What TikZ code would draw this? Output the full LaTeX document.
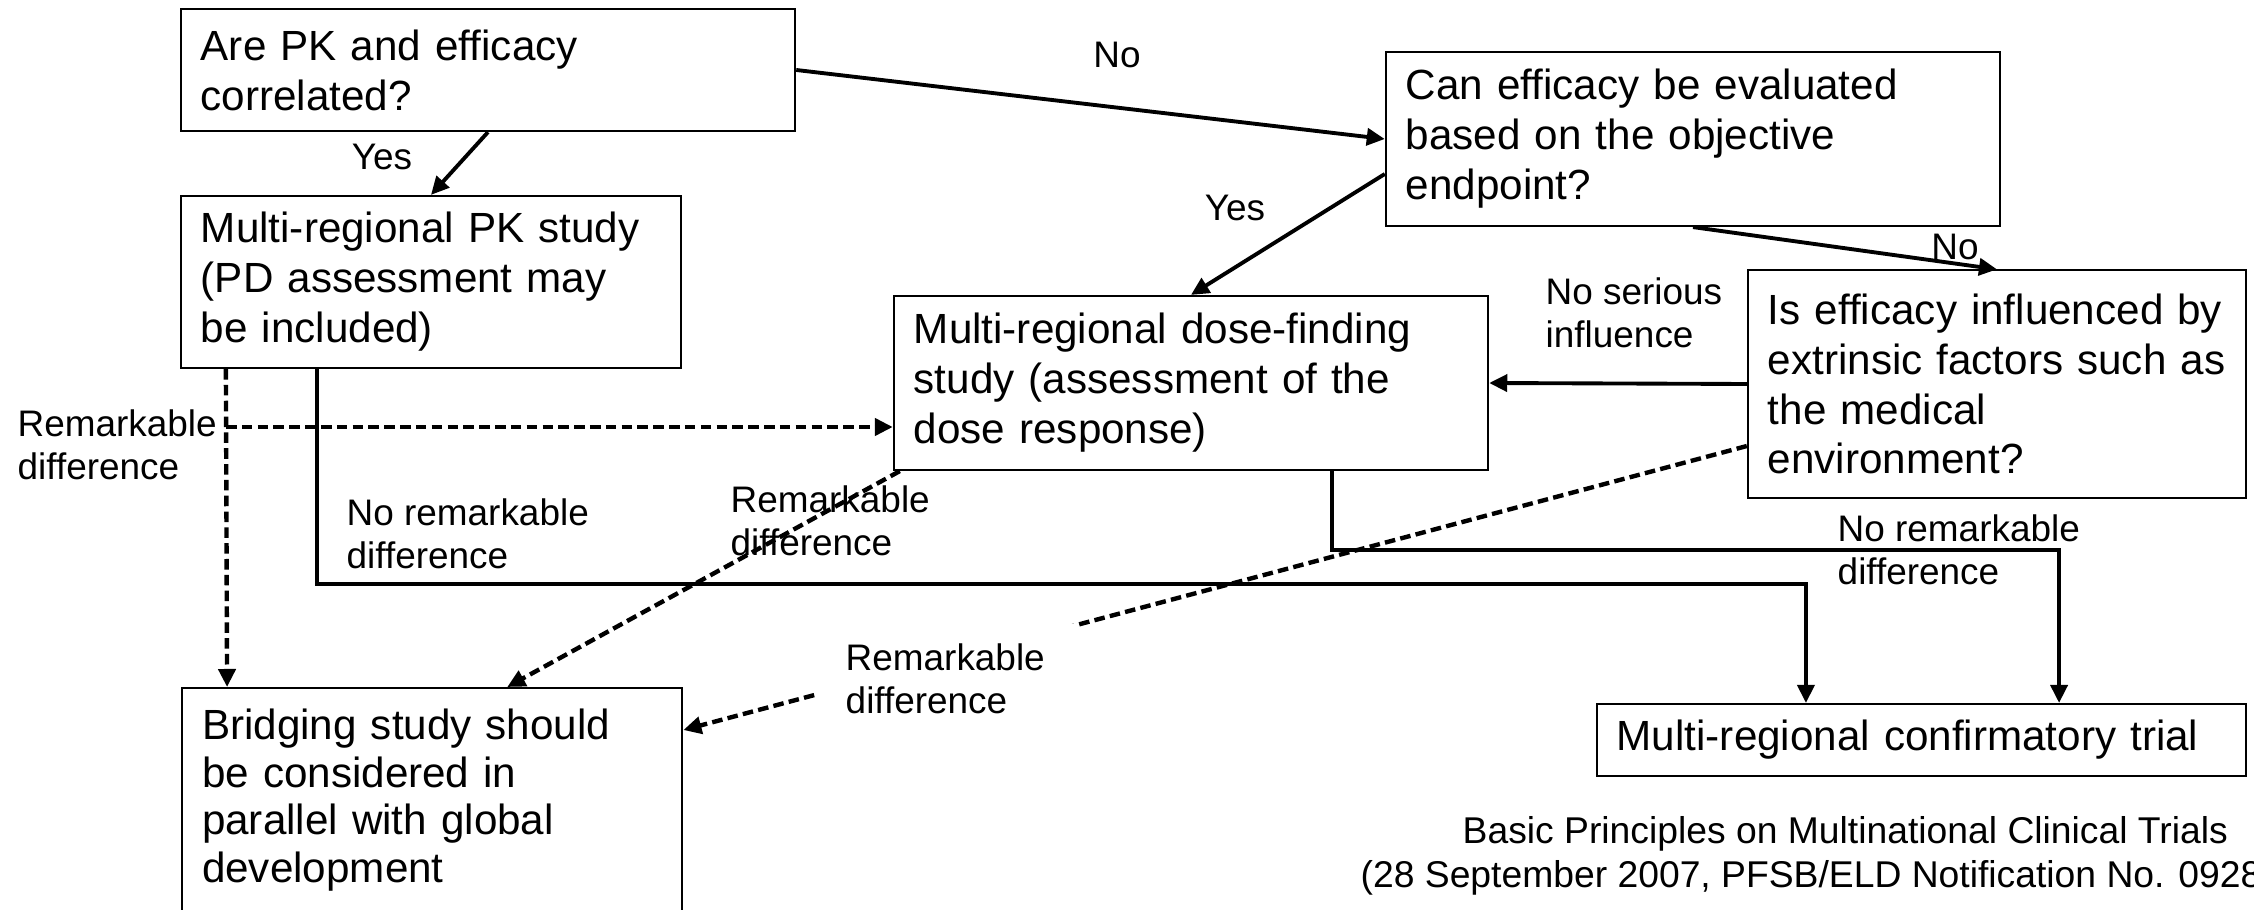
\documentclass[tikz,border=0pt]{standalone}
\usepackage{fontspec}
\setmainfont{Liberation Sans}
\usetikzlibrary{arrows.meta}

\begin{document}
\begin{tikzpicture}[x=0.01cm,y=-0.01cm,
  box/.style={draw, line width=0.6pt, align=left, inner xsep=0.2cm, inner ysep=0pt, font=\fontsize{12}{14.2}\selectfont},
  lbl/.style={align=left, inner sep=0pt, font=\fontsize{10.5}{12.4}\selectfont},
  arr/.style={line width=1.1pt, -{Triangle[length=0.18cm,width=0.17cm]}},
  darr/.style={arr, line width=1.25pt, dash pattern=on 3pt off 1.5pt}]
\useasboundingbox (0,0) rectangle (2254,910);
\clip (0,0) rectangle (2254,910);
% boxes
\node[box, text width=5.74cm, minimum height=1.22cm] (pk) at (488,70) {Are PK and efficacy\\correlated?};
\node[box, text width=4.6cm, minimum height=1.72cm] (pkstudy) at (431,282) {Multi-regional PK study\\(PD assessment may\\be included)};
\node[box, text width=5.74cm, minimum height=1.74cm] (eval) at (1693,139) {Can efficacy be evaluated\\based on the objective\\endpoint?};
\node[box, text width=5.54cm, minimum height=1.74cm] (dose) at (1191,383) {Multi-regional dose-finding\\study (assessment of the\\dose response)};
\node[box, text width=4.58cm, minimum height=2.27cm] (extr) at (1997,384) {Is efficacy influenced by\\extrinsic factors such as\\the medical\\environment?};
\node[box, text width=4.6cm, inner ysep=0.21cm, text depth=3cm, anchor=north west, font=\fontsize{12}{13.5}\selectfont] (bridge) at (181,687) {Bridging study should\\be considered in\\parallel with global\\development};
\node[box, text width=6.09cm, minimum height=0.72cm] (conf) at (1921.5,740) {Multi-regional confirmatory trial};
% solid arrows
\draw[arr] (pk.east) -- (eval.west);
\draw[arr] (pk.south) -- (pkstudy.north);
\draw[arr] ([yshift=-0.35cm]eval.west) -- (dose.north);
\draw[arr] (eval.south) -- (extr.north);
\draw[arr] (extr.west) -- (dose.east);
\coordinate (bturn) at (317,584);
\draw[arr] (pkstudy.south -| bturn) -- (bturn) -| ([xshift=-1.155cm]conf.north);
\coordinate (dturn) at (1332,550);
\draw[arr] (dose.south -| dturn) -- (dturn) -| ([xshift=1.375cm]conf.north);
% dashed arrows
\draw[darr] ([xshift=-2.05cm]pkstudy.south) -- ([xshift=-2.05cm]bridge.north);
\coordinate (bdose) at (226,427);
\draw[darr] (bdose) -- (bdose -| dose.west);
\draw[darr] ([xshift=0.07cm]dose.south west) -- ([xshift=0.75cm]bridge.north);
\draw[darr] ([yshift=-0.62cm]extr.west) -- ([yshift=-0.43cm]bridge.north east);
% labels
\node[lbl] (no1) at (1117,55) {No};
\node[lbl] (yes1) at (382,157) {Yes};
\node[lbl] (yes2) at (1235,208) {Yes};
\node[lbl] (no2) at (1955,247) {No};
\node[lbl, anchor=west] (noser) at (1545,313) {No serious\\influence};
\node[lbl, anchor=west] (nodiff1) at (346,534) {No remarkable\\difference};
\node[lbl, anchor=west] (nodiff2) at (1837,550) {No remarkable\\difference};
\node[lbl, anchor=west] (diff1) at (17,445) {Remarkable\\difference};
\node[lbl, anchor=west] (diff2) at (730,521) {Remarkable\\difference};
\node[lbl, anchor=west, fill=white, inner xsep=0.3cm, inner ysep=0.2cm] (diff3) at (815,679) {Remarkable\\difference};
% source
\node[lbl, anchor=west, font=\fontsize{10.6}{13}\selectfont] (src1) at (1462,834) {Basic Principles on Multinational Clinical Trials};
\node[lbl, anchor=west, font=\fontsize{10.6}{13}\selectfont] (src2) at (1360,878) {(28 September 2007, PFSB/ELD Notification No. 0928};
\end{tikzpicture}
\end{document}
